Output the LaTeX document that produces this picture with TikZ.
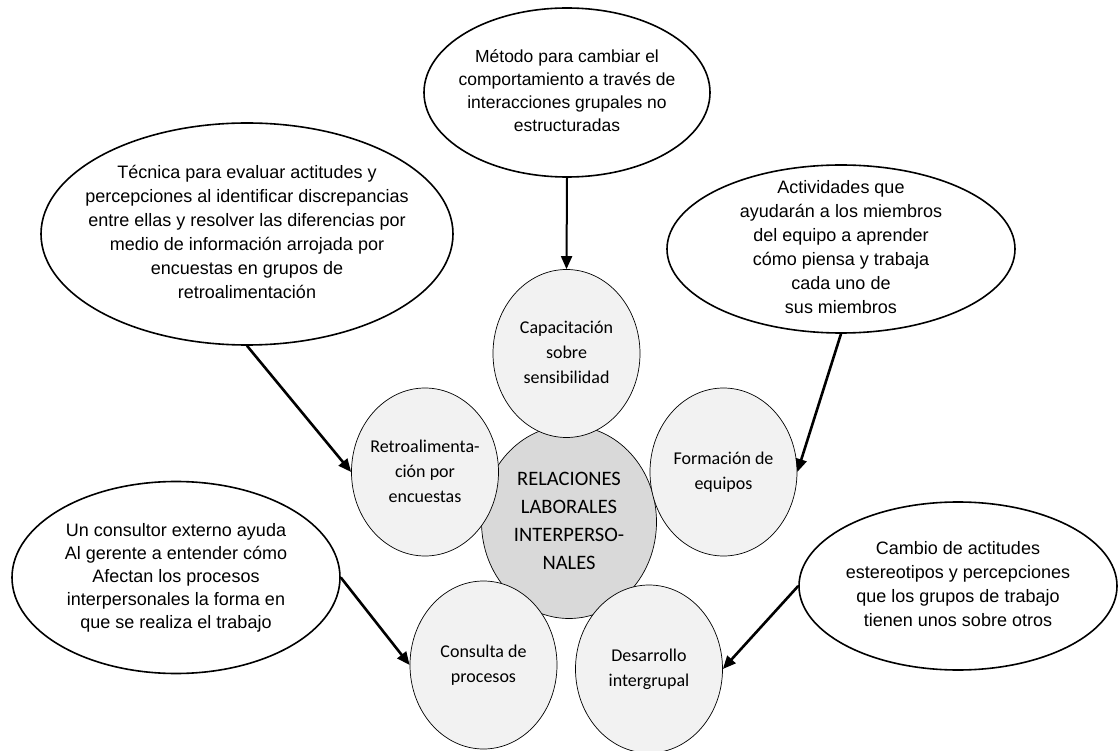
\documentclass[tikz,border=0pt]{standalone}
\usepackage{fontspec}
\setmainfont{Liberation Sans}
\newfontfamily\circfont{Carlito}
\usetikzlibrary{shapes.geometric,arrows.meta}

\definecolor{lightfill}{HTML}{F2F2F2}
\definecolor{corefill}{HTML}{D9D9D9}

% text box of zero size, so the ellipses keep the sizes given below
\newcommand{\blurb}[1]{\smash{\makebox[0pt]{\raisebox{-.25em}{\begin{tabular}{@{}c@{}}#1\end{tabular}}}}}

\tikzset{
  desc/.style={ellipse, draw, line width=1.6pt, inner sep=0pt, font=\fontsize{18}{24}\selectfont},
  tech/.style={ellipse, draw, line width=0.7pt, fill=lightfill, inner sep=0pt,
    minimum width=147pt, minimum height=168pt, font=\circfont\fontsize{18}{25}\selectfont},
  core/.style={ellipse, draw, line width=0.7pt, fill=corefill, inner sep=0pt,
    minimum width=175pt, minimum height=193pt, font=\circfont\fontsize{20.5}{28}\selectfont},
  link/.style={-{Triangle[length=13pt,width=11pt]}, line width=2.6pt}
}

\begin{document}
\begin{tikzpicture}[x=1pt, y=-1pt]
  \useasboundingbox (0,0) rectangle (1120,751);
  % centre
  \node[core] (rel) at (569,522) {\blurb{RELACIONES\\LABORALES\\INTERPERSO-\\NALES}};
  % techniques
  \node[tech] (cap) at (566.5,353.5) {\blurb{Capacitación\\sobre\\sensibilidad}};
  \node[tech] (retro) at (425,472) {\blurb{Retroalimenta-\\ción por\\encuestas}};
  \node[tech] (form) at (723.5,472) {\blurb{Formación de\\equipos}};
  \node[tech] (cons) at (483.5,665) {\blurb{Consulta de\\procesos}};
  \node[tech] (desa) at (649,669) {\blurb{Desarrollo\\intergrupal}};
  % descriptions
  \node[desc, minimum width=286pt, minimum height=169pt, font=\fontsize{17.5}{23}\selectfont] (metodo) at (567,92.5)
    {\blurb{Método para cambiar el\\comportamiento a través de\\interacciones grupales no\\estructuradas}};
  \node[desc, minimum width=412pt, minimum height=222pt] (tecnica) at (247,234)
    {\blurb{Técnica para evaluar actitudes y\\percepciones al identificar discrepancias\\entre ellas y resolver las diferencias por\\medio de información arrojada por\\encuestas en grupos de\\retroalimentación}};
  \node[desc, minimum width=348pt, minimum height=168pt] (activ) at (841,249)
    {\blurb{Actividades que\\ayudarán a los miembros\\del equipo a aprender\\cómo piensa y trabaja\\cada uno de\\sus miembros}};
  \node[desc, minimum width=328pt, minimum height=192pt, font=\fontsize{18}{23}\selectfont] (consult) at (176,577.5)
    {\blurb{Un consultor externo ayuda\\Al gerente a entender cómo\\Afectan los procesos\\interpersonales la forma en\\que se realiza el trabajo}};
  \node[desc, minimum width=318pt, minimum height=168pt] (cambio) at (958,586)
    {\blurb{Cambio de actitudes\\estereotipos y percepciones\\que los grupos de trabajo\\tienen unos sobre otros}};
  % arrows
  \draw[link, line width=2pt] (metodo.south) -- (cap.north);
  \draw[link] (tecnica.south) -- (retro.west);
  \draw[link] (activ.south) -- (form.east);
  \draw[link] (consult.east) -- (cons.west);
  \draw[link] (cambio.west) -- (desa.east);
\end{tikzpicture}
\end{document}
